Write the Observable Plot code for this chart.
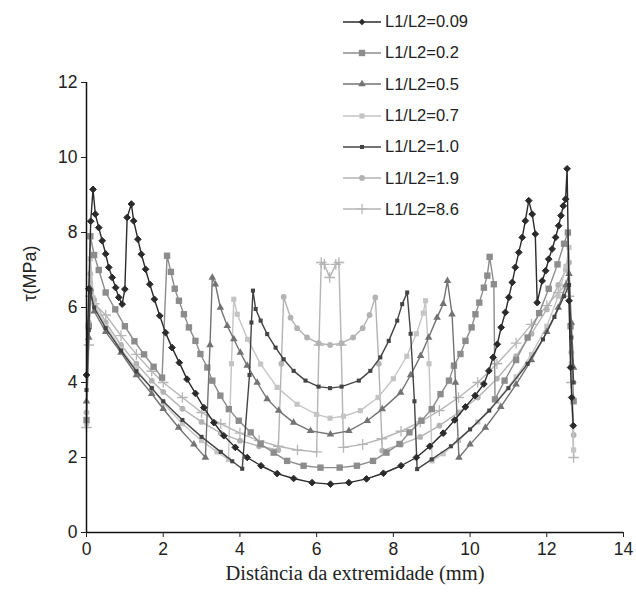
<!DOCTYPE html>
<html><head><meta charset="utf-8">
<script src="https://cdn.jsdelivr.net/npm/d3@7"></script>
<script src="https://cdn.jsdelivr.net/npm/@observablehq/plot@0.6"></script>
<style>
body{margin:0;background:#fff;}
#wrap{position:relative;width:636px;height:599px;}
#legend{position:absolute;left:343px;top:6px;font-family:"Liberation Sans",Arial,sans-serif;font-size:16.5px;color:#222;}
.item{display:flex;align-items:center;height:31.3px;}
.item svg{margin-right:4px;}
</style></head><body><div id="wrap"><div id="legend"></div></div>
<script>
const seriesLabels = ["L1/L2=0.09","L1/L2=0.2","L1/L2=0.5","L1/L2=0.7","L1/L2=1.0","L1/L2=1.9","L1/L2=8.6"];
const xTicks = [0,2,4,6,8,10,12,14];
const yTicks = [0,2,4,6,8,10,12];
const xTitle = "Distância da extremidade (mm)";
const yTitle = "τ(MPa)";

const x009 = [0.0,0.06,0.11,0.17,0.23,0.32,0.41,0.5,0.58,0.67,0.76,0.84,0.93,1.0,1.06,1.17,1.23,1.34,1.43,1.54,1.65,1.77,1.91,2.06,2.23,2.42,2.62,2.84,3.06,3.32,3.58,3.88,4.19,4.55,4.97,5.4,5.88,6.36,6.84,7.3,7.74,8.2,8.6,8.95,9.3,9.6,9.88,10.13,10.36,10.49,10.6,10.71,10.81,10.92,11.01,11.1,11.18,11.27,11.36,11.44,11.53,11.62,11.7,11.75,11.88,11.97,12.05,12.14,12.23,12.31,12.37,12.43,12.49,12.53,12.58,12.62,12.65,12.69];
const y009 = [4.2,6.5,8.3,9.15,8.49,8.13,7.78,7.43,7.07,6.8,6.53,6.27,6.09,6.49,8.4,8.76,8.31,7.82,7.42,7.02,6.62,6.22,5.78,5.33,4.93,4.53,4.09,3.71,3.33,2.93,2.58,2.27,2.0,1.78,1.57,1.44,1.33,1.29,1.33,1.43,1.58,1.78,2.0,2.3,2.65,3.0,3.35,3.65,3.96,4.31,4.67,5.02,5.47,5.87,6.27,6.67,7.07,7.47,7.87,8.31,8.85,8.49,7.96,6.13,6.71,6.98,7.29,7.56,7.87,8.18,8.45,8.71,8.89,9.7,6.18,4.4,3.6,2.85];

const x02 = [0.0,0.06,0.1,0.2,0.32,0.5,0.75,1.0,1.25,1.5,1.75,1.97,2.1,2.2,2.3,2.41,2.54,2.67,2.84,2.97,3.15,3.28,3.49,3.71,3.97,4.28,4.54,4.88,5.23,5.66,6.1,6.6,7.05,7.47,7.82,8.16,8.42,8.73,9.0,9.23,9.45,9.58,9.75,9.88,10.04,10.14,10.24,10.36,10.45,10.51,10.62,10.65,10.9,11.2,11.5,11.8,12.05,12.28,12.45,12.55,12.62,12.7];
const y02 = [3.0,5.5,7.9,7.4,7.0,6.4,5.95,5.5,5.1,4.75,4.42,4.13,7.38,6.95,6.5,6.18,5.82,5.47,5.11,4.76,4.4,4.05,3.65,3.29,2.98,2.67,2.36,2.13,1.91,1.78,1.73,1.73,1.78,1.91,2.13,2.36,2.67,2.98,3.29,3.69,4.05,4.45,4.76,5.11,5.47,5.82,6.13,6.53,6.85,7.35,6.62,3.55,4.05,4.6,5.2,5.85,6.5,7.15,7.7,8.0,5.5,3.5];

const x05 = [0.0,0.06,0.1,0.2,0.5,0.9,1.3,1.7,2.0,2.4,2.8,3.1,3.22,3.28,3.36,3.49,3.67,3.84,4.01,4.19,4.45,4.71,5.01,5.4,5.84,6.36,6.84,7.32,7.71,8.19,8.45,8.71,8.92,9.14,9.3,9.41,9.53,9.62,9.71,10.0,10.4,10.8,11.2,11.6,12.0,12.3,12.5,12.58,12.64,12.7];
const y05 = [3.5,5.2,6.5,5.9,5.35,4.8,4.2,3.7,3.3,2.8,2.35,2.0,5.0,6.8,6.62,6.0,5.51,5.16,4.8,4.45,4.0,3.56,3.25,2.93,2.71,2.62,2.71,2.98,3.29,3.73,4.2,4.71,5.2,5.73,6.1,6.71,5.82,4.0,2.0,2.35,2.8,3.35,3.95,4.6,5.35,6.0,6.6,6.9,5.6,4.4];

const x07 = [0.0,0.06,0.1,0.2,0.5,0.9,1.3,1.7,2.0,2.5,3.0,3.4,3.7,3.78,3.84,3.93,4.2,4.54,4.97,5.49,6.0,6.35,6.7,7.14,7.6,8.0,8.35,8.6,8.78,8.84,8.93,9.01,9.3,9.7,10.2,10.7,11.2,11.6,12.0,12.3,12.5,12.58,12.64,12.7];
const y07 = [2.9,5.5,7.3,6.1,5.5,4.9,4.35,3.85,3.45,2.9,2.45,2.15,1.95,4.5,6.22,5.82,5.15,4.49,3.87,3.42,3.15,3.05,3.1,3.25,3.6,4.1,4.7,5.3,5.85,6.18,4.5,1.91,2.1,2.45,2.95,3.5,4.15,4.75,5.5,6.3,7.1,7.6,4.5,2.2];

const x10 = [0.0,0.06,0.1,0.2,0.5,0.9,1.3,1.7,2.0,2.5,3.0,3.5,3.8,4.06,4.25,4.3,4.34,4.41,4.54,4.71,4.93,5.14,5.4,5.71,6.05,6.35,6.65,7.1,7.4,7.66,7.88,8.1,8.23,8.36,8.45,8.55,8.62,9.0,9.5,10.0,10.5,11.0,11.5,11.9,12.2,12.45,12.58,12.64,12.7];
const y10 = [3.8,5.4,6.4,6.0,5.45,4.85,4.3,3.85,3.5,3.0,2.55,2.15,1.9,1.7,4.2,5.6,6.45,5.96,5.65,5.29,4.93,4.62,4.31,4.05,3.89,3.85,3.89,4.05,4.31,4.67,5.11,5.65,6.09,6.4,5.3,3.5,1.69,1.95,2.3,2.75,3.25,3.85,4.5,5.15,5.75,6.3,6.6,5.2,4.0];

const x19 = [0.0,0.06,0.1,0.2,0.5,0.9,1.3,1.7,2.0,2.5,3.0,3.5,4.0,4.5,5.0,5.08,5.14,5.32,5.49,5.75,6.05,6.35,6.65,6.95,7.2,7.38,7.53,7.62,7.71,8.2,8.7,9.2,9.7,10.2,10.7,11.2,11.6,12.0,12.3,12.5,12.58,12.64,12.7];
const y19 = [3.2,5.6,6.9,6.2,5.6,5.0,4.5,4.05,3.75,3.3,2.95,2.65,2.45,2.3,2.2,4.5,6.28,5.73,5.45,5.2,5.05,5.0,5.05,5.2,5.45,5.8,6.27,4.5,2.18,2.35,2.55,2.85,3.2,3.6,4.1,4.7,5.3,5.95,6.6,7.0,7.2,4.8,2.6];

const x86 = [0.0,0.06,0.1,0.2,0.5,0.9,1.3,1.7,2.0,2.5,3.0,3.5,4.0,4.5,5.0,5.5,6.0,6.06,6.12,6.2,6.34,6.5,6.58,6.64,6.7,7.2,7.7,8.2,8.7,9.2,9.7,10.2,10.7,11.2,11.6,12.0,12.3,12.5,12.58,12.64,12.7];
const y86 = [2.8,5.0,6.3,6.1,5.8,5.25,4.75,4.3,4.0,3.6,3.2,2.9,2.65,2.45,2.3,2.2,2.15,5.0,7.2,7.15,6.8,7.15,7.2,5.0,2.27,2.35,2.5,2.7,2.95,3.25,3.6,4.0,4.5,5.05,5.55,6.05,6.4,6.6,6.3,4.0,2.0];

const xsAll = [x009,x02,x05,x07,x10,x19,x86];
const ysAll = [y009,y02,y05,y07,y10,y19,y86];

// styles (kept separate from data)
const styles = [
  {color:"#2b2b2b", symbol:"diamond2", r:3.0, stroke:false},
  {color:"#8c8c8c", symbol:"square",   r:3.6, stroke:false},
  {color:"#737373", symbol:"triangle", r:2.8, stroke:false},
  {color:"#c4c4c4", symbol:"square",   r:2.9, stroke:false},
  {color:"#444444", symbol:"square",   r:2.3, stroke:false},
  {color:"#b3b3b3", symbol:"circle",   r:2.9, stroke:false},
  {color:"#b5b5b5", symbol:"plus",     r:3.5, stroke:true}
];

const tables = seriesLabels.map((lab,i)=>xsAll[i].map((x,j)=>({series:lab, x, y: ysAll[i][j]})));

const marks = [];
const order = [6,5,3,1,2,4,0];
for (const i of order) {
  const s = styles[i];
  marks.push(Plot.line(tables[i], {x:"x", y:"y", stroke:s.color, strokeWidth:1.4}));
  if (s.stroke) {
    marks.push(Plot.dot(tables[i], {x:"x", y:"y", symbol:s.symbol, r:s.r, stroke:s.color, strokeWidth:1.3, fill:"none"}));
  } else if (s.symbol === "diamond2") {
    marks.push(Plot.dot(tables[i], {x:"x", y:"y", symbol:"diamond2", r:s.r, fill:s.color, stroke:s.color, strokeWidth:1}));
  } else {
    marks.push(Plot.dot(tables[i], {x:"x", y:"y", symbol:s.symbol, r:s.r, fill:s.color, stroke:"none"}));
  }
}

const chart = Plot.plot({
  width:636, height:599,
  marginLeft:86, marginRight:13, marginTop:82, marginBottom:67,
  style:{fontFamily:"'Liberation Sans', Arial, sans-serif", color:"#222", background:"#fff"},
  x:{domain:[0,14]},
  y:{domain:[0,12]},
  marks:[
    ...marks,
    Plot.ruleX([0], {stroke:"#111", strokeWidth:1.5}),
    Plot.ruleY([0], {stroke:"#111", strokeWidth:1.5}),
    Plot.axisX({ticks:xTicks, tickSize:5, tickPadding:5, fontSize:17.5, label:null, tickFormat:d=>String(d)}),
    Plot.axisY({ticks:yTicks, tickSize:5, tickPadding:4, fontSize:17.5, label:null, tickFormat:d=>String(d)}),
    Plot.text([xTitle], {text:d=>d, frameAnchor:"bottom", dy:47, fontSize:20.5, fontFamily:"'Liberation Serif','Times New Roman',serif", fill:"#222"}),
    Plot.text([yTitle], {text:d=>d, frameAnchor:"left", dx:-56, dy:-6, rotate:-90, fontSize:18, fill:"#222"})
  ]
});
document.getElementById("wrap").insertBefore(chart, document.getElementById("legend"));

// legend
const leg = d3.select("#legend");
const symMap = {circle:d3.symbolCircle, square:d3.symbolSquare, triangle:d3.symbolTriangle, plus:d3.symbolPlus, diamond2:d3.symbolDiamond2};
seriesLabels.forEach((lab,i)=>{
  const s = styles[i];
  const item = leg.append("div").attr("class","item");
  const svg = item.append("svg").attr("width",38).attr("height",14);
  svg.append("line").attr("x1",0).attr("x2",38).attr("y1",7).attr("y2",7).attr("stroke",s.color).attr("stroke-width",1.4);
  const p = svg.append("path").attr("transform","translate(19,7)")
    .attr("d", d3.symbol(symMap[s.symbol], Math.PI*s.r*s.r)());
  if (s.stroke) p.attr("fill","none").attr("stroke",s.color).attr("stroke-width",1.2);
  else p.attr("fill",s.color);
  item.append("span").text(lab);
});
</script>
</body></html>
